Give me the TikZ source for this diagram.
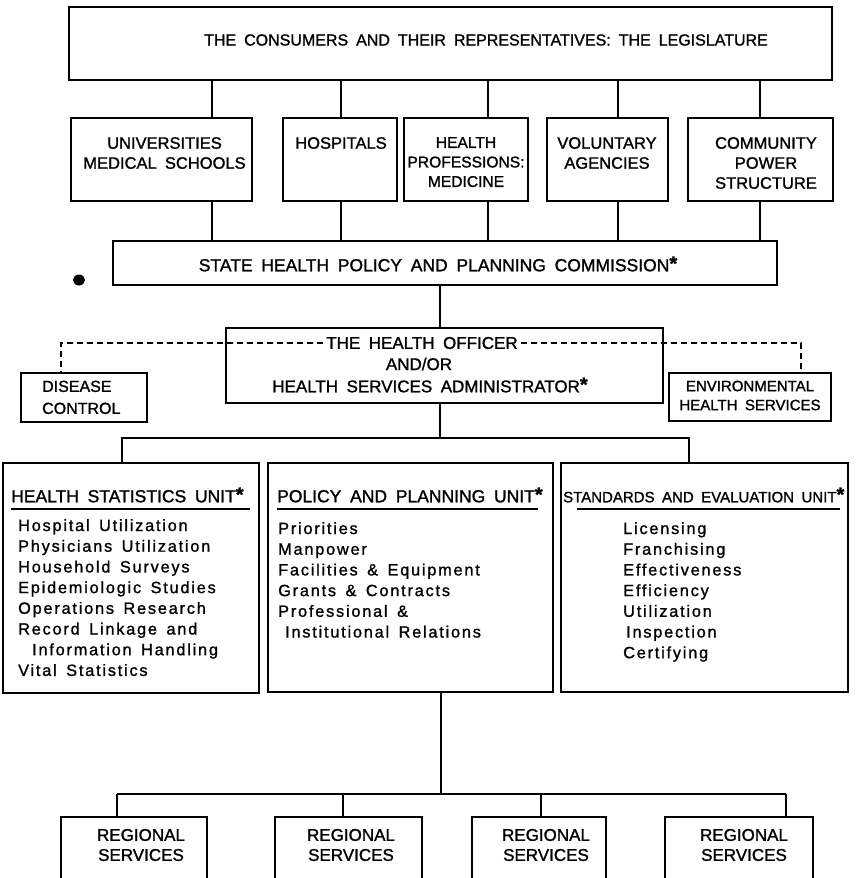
\documentclass[tikz,border=0pt]{standalone}
\usepackage{fontspec}
\setmainfont{Liberation Sans}[WordSpace=1.8,FakeBold=1.3]
\newfontfamily\lstfont{Liberation Sans}[LetterSpace=11,WordSpace=1.5,FakeBold=1.2]
\usetikzlibrary{calc}
\newcommand{\astk}{\raisebox{1pt}{\fontsize{20}{20}\selectfont\bfseries *}}
\begin{document}
\begin{tikzpicture}[x=1pt,y=-1pt,
  box/.style={draw, line width=2pt, inner sep=0pt, rectangle},
  conn/.style={line width=2pt},
  dline/.style={line width=1.5pt, dash pattern=on 6pt off 4pt},
  uline/.style={line width=1.5pt},
  lbl/.style={inner sep=0pt, align=center},
  lst/.style={inner sep=0pt, align=left, anchor=north west, font=\lstfont\fontsize{16.3}{20.7}\selectfont},
]
\useasboundingbox (0,0) rectangle (856,878);
\clip (0,0) rectangle (856,878);

% ---------- boxes ----------
\node[box, minimum width=763pt, minimum height=73pt] (top) at (450.5,43.5) {};
\node[box, minimum width=181pt, minimum height=83pt] (uni)  at (161.5,159.5) {};
\node[box, minimum width=114pt, minimum height=83pt] (hosp) at (340,159.5) {};
\node[box, minimum width=124pt, minimum height=83pt] (hp)   at (466,159.5) {};
\node[box, minimum width=121pt, minimum height=83pt] (vol)  at (607.5,159.5) {};
\node[box, minimum width=145pt, minimum height=83pt] (com)  at (760.5,159.5) {};
\node[box, minimum width=664pt, minimum height=44pt] (state) at (445,263) {};
\node[box, minimum width=437pt, minimum height=75pt] (ho) at (444.5,365.5) {};
\node[box, minimum width=126pt, minimum height=49pt] (dc) at (84,397.5) {};
\node[box, minimum width=162pt, minimum height=48pt] (env) at (750,397) {};
\node[box, minimum width=256pt, minimum height=230pt] (hs) at (131,578) {};
\node[box, minimum width=285pt, minimum height=229pt] (pp) at (410.5,577.5) {};
\node[box, minimum width=287pt, minimum height=229pt] (se) at (704.5,577.5) {};
\node[box, minimum width=146pt, minimum height=83pt] (r1) at (134,858.5) {};
\node[box, minimum width=147pt, minimum height=83pt] (r2) at (348.5,858.5) {};
\node[box, minimum width=134pt, minimum height=83pt] (r3) at (539,858.5) {};
\node[box, minimum width=148pt, minimum height=83pt] (r4) at (739,858.5) {};

% ---------- texts ----------
\node[lbl, font=\fontsize{16}{18}\selectfont] (toptxt) at (486,40)
  {THE CONSUMERS AND THEIR REPRESENTATIVES: THE LEGISLATURE};
\begin{scope}[every node/.style={lbl, anchor=north, font=\fontsize{16.5}{20}\selectfont}]
\node (unit) at (164.5,137) {UNIVERSITIES\\MEDICAL SCHOOLS};
\node (hospt) at (341,137) {HOSPITALS};
\node[font=\fontsize{15.6}{19.5}\selectfont] (hpt) at (466,137) {HEALTH\\PROFESSIONS:\\MEDICINE};
\node (volt) at (607,137) {VOLUNTARY\\AGENCIES};
\node (comt) at (766,137) {COMMUNITY\\POWER\\STRUCTURE};
\end{scope}
\node[lbl, font=\fontsize{17.5}{20}\selectfont] (statet) at (438,264)
  {STATE HEALTH POLICY AND PLANNING COMMISSION\astk};
\begin{scope}[every node/.style={lbl, font=\fontsize{17}{20}\selectfont}]
\node[inner sep=3pt] (ho1) at (422,343) {THE HEALTH OFFICER};
\node (ho2) at (419,364) {AND/OR};
\node (ho3) at (430,385) {HEALTH SERVICES ADMINISTRATOR\astk};
\end{scope}
\node[lbl, align=left, anchor=north west, font=\fontsize{16}{22}\selectfont] (dct) at (42,380.5) {DISEASE\\CONTROL};
\node[lbl, anchor=north, font=\fontsize{15}{19}\selectfont] (envt) at (750,380.5) {ENVIRONMENTAL\\HEALTH SERVICES};

\node[lbl, anchor=west, font=\fontsize{17.5}{20}\selectfont] (hsh) at (11,495) {HEALTH STATISTICS UNIT\astk};
\node[lbl, anchor=west, font=\fontsize{17.5}{20}\selectfont] (pph) at (277,495) {POLICY AND PLANNING UNIT\astk};
\node[lbl, anchor=west, font=\fontsize{15}{20}\selectfont] (seh) at (563,495) {STANDARDS AND EVALUATION UNIT\astk};
\draw[uline] (11,509) -- (250,509);
\draw[uline] (277,509) -- (538,509);
\draw[uline] (577,509) -- (840,509);

\node[lst] (hsl) at (18,519) {Hospital Utilization\\Physicians Utilization\\Household Surveys\\Epidemiologic Studies\\Operations Research\\Record Linkage and\\\hspace*{14pt}Information Handling\\Vital Statistics};
\node[lst] (ppl) at (278,522) {Priorities\\Manpower\\Facilities \& Equipment\\Grants \& Contracts\\Professional \&\\\hspace*{7pt}Institutional Relations};
\node[lst] (sel) at (623,522) {Licensing\\Franchising\\Effectiveness\\Efficiency\\Utilization\\\hspace*{3pt}Inspection\\Certifying};

\begin{scope}[every node/.style={lbl, font=\fontsize{17}{20}\selectfont}]
\node (r1t) at (141,845) {REGIONAL\\SERVICES};
\node (r2t) at (351,845) {REGIONAL\\SERVICES};
\node (r3t) at (546,845) {REGIONAL\\SERVICES};
\node (r4t) at (744,845) {REGIONAL\\SERVICES};
\end{scope}

% ---------- connectors ----------
\foreach \n/\xx in {uni/212, hosp/341, hp/488, vol/618, com/760}{
  \coordinate (cx) at (\xx,0);
  \draw[conn] (top.south -| cx) -- (\n.north -| cx);
  \draw[conn] (\n.south -| cx) -- (state.north -| cx);
}
\coordinate (vx) at (440,0);
\coordinate (b1) at (122,438);
\coordinate (b2) at (689,438);
\draw[conn] (state.south -| vx) -- (ho.north -| vx);
\draw[conn] (ho.south -| vx) -- (vx |- b1);
\draw[conn] (hs.north -| b1) -- (b1) -- (b2) -- (se.north -| b2);

\coordinate (dl) at (61,343);
\coordinate (dr) at (801,343);
\draw[dline] (ho1.west) -- (dl) -- (dl |- dc.north);
\draw[dline] (ho1.east) -- (dr) -- (dr |- env.north);

\coordinate (px) at (441,794);
\coordinate (q1) at (117,794);
\coordinate (q2) at (343,794);
\coordinate (q3) at (541,794);
\coordinate (q4) at (786,794);
\draw[conn] (pp.south -| px) -- (px);
\draw[conn] (q1) -- (q4);
\draw[conn] (q1) -- (r1.north -| q1);
\draw[conn] (q2) -- (r2.north -| q2);
\draw[conn] (q3) -- (r3.north -| q3);
\draw[conn] (q4) -- (r4.north -| q4);

% ink blot
\fill (79,280) ellipse (6pt and 5.5pt);
\end{tikzpicture}
\end{document}
